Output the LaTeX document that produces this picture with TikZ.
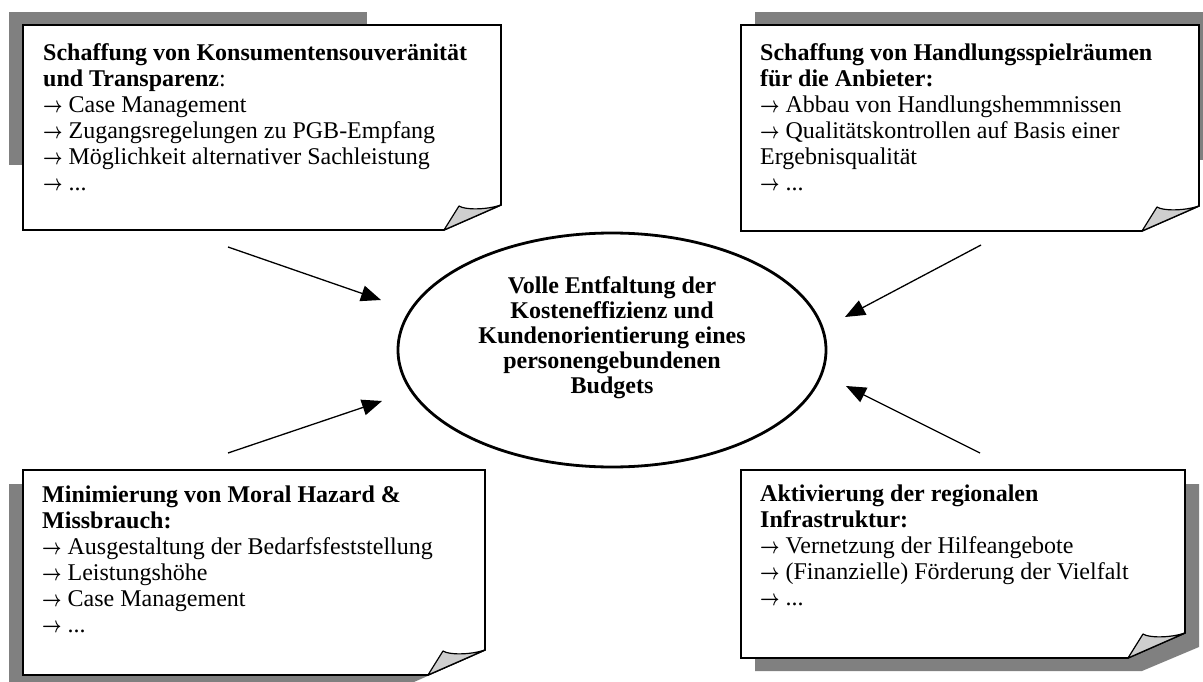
\documentclass[tikz,border=0pt]{standalone}
\usepackage{fontspec}
\setmainfont{Liberation Serif}
\newcommand\pf{\scalebox{0.68}[0.9]{\boldmath$\rightarrow$}}
\usetikzlibrary{arrows.meta,shapes.geometric}
\definecolor{S}{RGB}{128, 128, 128}
\definecolor{K}{RGB}{206, 206, 206}

\begin{document}
\begin{tikzpicture}[x=1pt,y=-1pt,
    kasten/.style={draw,line width=1.6pt,fill=white},
    knick/.style={draw,line width=1.2pt,fill=K,line join=round},
    txt/.style={anchor=north west,inner sep=0pt,align=left,font=\fontsize{24}{26}\selectfont},
    pfeil/.style={-{Triangle[length=20pt,width=16pt]},line width=1.3pt}]
   	\useasboundingbox (0,0) rectangle (1203,682);

	%Schatten der vier Notizen
   	\fill[S] (9,12) rectangle (367,165);
   	\fill[S] (755,12) rectangle (1203,160);
   	\fill[S] (9,484) -- (471,484) -- (471,657) -- (414,682) -- (9,682) -- cycle;
   	\fill[S] (755,484) -- (1199,484) -- (1199,647) -- (1142,671) -- (755,671) -- cycle;

	%Notiz oben links
   	\draw[kasten] (23,25) -- (501,25) -- (501,205) -- (444,230) -- (23,230) -- cycle;
   	\draw[knick] (444,230) -- (459,206) .. controls (465,210) and (486,210) .. (501,205) -- cycle;
   	\node[txt] (konsument) at (43,42) {\strut\textbf{Schaffung von Konsumentensouveränität}\\
   	  \textbf{und Transparenz}:\\
   	  \pf{} Case Management\\
   	  \pf{} Zugangsregelungen zu PGB-Empfang\\
   	  \pf{} Möglichkeit alternativer Sachleistung\\
   	  \pf{} ...};

	%Notiz oben rechts
   	\draw[kasten] (741,25) -- (1199,25) -- (1199,206) -- (1142,231) -- (741,231) -- cycle;
   	\draw[knick] (1142,231) -- (1157,207) .. controls (1163,211) and (1184,211) .. (1199,206) -- cycle;
   	\node[txt] (anbieter) at (760,42) {\strut\textbf{Schaffung von Handlungsspielräumen}\\
   	  \textbf{für die Anbieter:}\\
   	  \pf{} Abbau von Handlungshemmnissen\\
   	  \pf{} Qualitätskontrollen auf Basis einer\\
   	  Ergebnisqualität\\
   	  \pf{} ...};

	%Notiz unten links
   	\draw[kasten] (23,470) -- (485,470) -- (485,650) -- (428,675) -- (23,675) -- cycle;
   	\draw[knick] (428,675) -- (443,651) .. controls (449,655) and (470,655) .. (485,650) -- cycle;
   	\node[txt] (hazard) at (42,484) {\strut\textbf{Minimierung von Moral Hazard \&}\\
   	  \textbf{Missbrauch:}\\
   	  \pf{} Ausgestaltung der Bedarfsfeststellung\\
   	  \pf{} Leistungshöhe\\
   	  \pf{} Case Management\\
   	  \pf{} ...};

	%Notiz unten rechts
   	\draw[kasten] (741,470) -- (1185,470) -- (1185,633) -- (1128,658) -- (741,658) -- cycle;
   	\draw[knick] (1128,658) -- (1143,634) .. controls (1149,638) and (1170,638) .. (1185,633) -- cycle;
   	\node[txt] (infra) at (760,483) {\strut\textbf{Aktivierung der regionalen}\\
   	  \textbf{Infrastruktur:}\\
   	  \pf{} Vernetzung der Hilfeangebote\\
   	  \pf{} (Finanzielle) Förderung der Vielfalt\\
   	  \pf{} ...};

	%Ellipse in der Mitte
   	\node[ellipse,draw,line width=2.8pt,minimum width=428pt,minimum height=234pt,inner sep=0pt] (ziel) at (612,350) {};
   	\node[align=center,font=\fontsize{24}{25}\selectfont\bfseries] (zieltext) at (612,338)
   	  {Volle Entfaltung der\\Kosteneffizienz und\\Kundenorientierung eines\\personengebundenen\\Budgets};

	%Pfeile zur Mitte
   	\coordinate (a1) at (228,247);  \coordinate (e1) at (381,300);
   	\coordinate (a2) at (981,245);  \coordinate (e2) at (845,317);
   	\coordinate (a3) at (228,453);  \coordinate (e3) at (382,401);
   	\coordinate (a4) at (980,453);  \coordinate (e4) at (846,386);
   	\draw[pfeil] (a1) -- (e1);
   	\draw[pfeil] (a2) -- (e2);
   	\draw[pfeil] (a3) -- (e3);
   	\draw[pfeil] (a4) -- (e4);
\end{tikzpicture}
\end{document}
